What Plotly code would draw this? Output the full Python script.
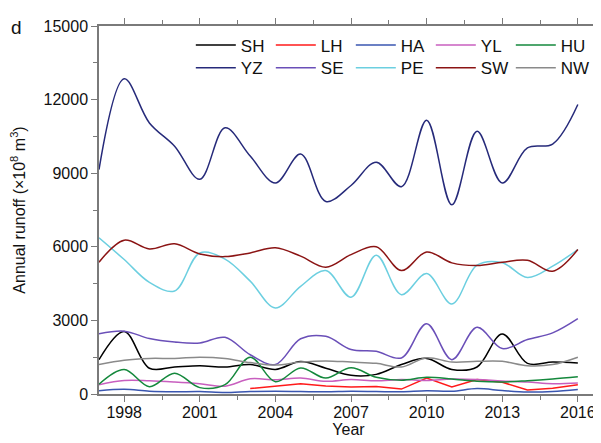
import plotly.graph_objects as go

years = list(range(1997, 2017))
years_lh = list(range(2003, 2017))

SH = [1400, 2550, 1050, 1100, 1150, 1100, 1200, 1000, 1320, 1050, 760, 800, 1200, 1450, 1000, 1100, 2450, 1250, 1300, 1260]
LH = [220, 320, 420, 330, 290, 310, 200, 650, 290, 590, 480, 160, 230, 380]
HA = [130, 190, 110, 90, 100, 60, 100, 110, 100, 90, 110, 100, 90, 130, 110, 220, 140, 80, 100, 180]
YL = [380, 550, 540, 490, 420, 320, 620, 580, 650, 520, 590, 540, 590, 550, 610, 590, 530, 490, 420, 450]
HU = [400, 1000, 300, 850, 260, 380, 1500, 500, 1060, 650, 1070, 680, 560, 680, 610, 520, 490, 540, 610, 700]
YZ = [9150, 12850, 11050, 10100, 8750, 10850, 9700, 8600, 9780, 7850, 8500, 9450, 8450, 11160, 7710, 10710, 8600, 10030, 10190, 11800]
SE = [2450, 2560, 2260, 2120, 2080, 2310, 1600, 1200, 2250, 2350, 1810, 1740, 1470, 2860, 1400, 2720, 1850, 2220, 2490, 3070]
PE = [6365, 5480, 4550, 4200, 5750, 5500, 4600, 3510, 4390, 5030, 3945, 5660, 4050, 4910, 3670, 5250, 5350, 4750, 5210, 5890]
SW = [5370, 6270, 5915, 6120, 5710, 5600, 5750, 5960, 5620, 5170, 5680, 6000, 5030, 5790, 5345, 5235, 5370, 5450, 5005, 5890]
NW = [1200, 1380, 1450, 1450, 1500, 1450, 1280, 1180, 1300, 1350, 1300, 1250, 1100, 1480, 1300, 1330, 1330, 1150, 1200, 1500]

x_ticks = [1998, 2001, 2004, 2007, 2010, 2013, 2016]
y_ticks = [0, 3000, 6000, 9000, 12000, 15000]

FONT = "Liberation Sans, Arial, sans-serif"
TXT = "#111111"

series = [
    ("SH", years, SH, "#000000", "spline", "legend"),
    ("LH", years_lh, LH, "#ff1a1a", "linear", "legend"),
    ("HA", years, HA, "#3a56b0", "spline", "legend"),
    ("YL", years, YL, "#c85fbf", "spline", "legend"),
    ("HU", years, HU, "#14883c", "spline", "legend"),
    ("YZ", years, YZ, "#262a7a", "spline", "legend2"),
    ("SE", years, SE, "#6a4fb8", "spline", "legend2"),
    ("PE", years, PE, "#6ccfe0", "spline", "legend2"),
    ("SW", years, SW, "#8b1414", "spline", "legend2"),
    ("NW", years, NW, "#8a8a8a", "spline", "legend2"),
]

fig = go.Figure()
for name, xs, ys, col, shape, lg in series:
    fig.add_trace(go.Scatter(x=xs, y=ys, name=name, mode="lines",
                             line=dict(color=col, width=1.5, shape=shape, smoothing=1.0),
                             legend=lg))

axis_common = dict(showline=True, linecolor="#7a7a7a", linewidth=1.5, mirror="ticks",
                   ticks="outside", ticklen=6, tickwidth=1.2, tickcolor="#7a7a7a",
                   showgrid=False, zeroline=False,
                   tickfont=dict(family=FONT, size=16, color=TXT))

fig.update_xaxes(range=[1997, 2016.8], tickvals=x_ticks, tickformat="d", ticklabelstandoff=-3,
                 minor=dict(dtick=1.5, tick0=1998, ticks="outside", ticklen=4, tickcolor="#7a7a7a", tickwidth=1.2),
                 title=dict(text="Year", font=dict(family=FONT, size=16, color=TXT), standoff=3),
                 **axis_common)
fig.update_yaxes(range=[0, 15000], tickvals=y_ticks, tickformat="d",
                 minor=dict(dtick=1500, tick0=0, ticks="outside", ticklen=4, tickcolor="#7a7a7a", tickwidth=1.2),
                 title=dict(text="Annual runoff (×10<sup>8</sup> m<sup>3</sup>)", font=dict(family=FONT, size=16, color=TXT), standoff=17),
                 **axis_common)

leg_common = dict(orientation="h", xanchor="left", yanchor="top", bgcolor="rgba(0,0,0,0)",
                  font=dict(family=FONT, size=17, color=TXT), entrywidth=25, entrywidthmode="pixels",
                  itemwidth=40, tracegroupgap=0, itemclick=False)
fig.update_layout(
    width=601, height=443,
    margin=dict(l=91, r=3, t=18, b=57),
    paper_bgcolor="white", plot_bgcolor="white",
    font=dict(family=FONT, size=16, color=TXT),
    legend=dict(x=0.184, y=0.996, **leg_common),
    legend2=dict(x=0.184, y=0.934, **leg_common),
)
fig.add_annotation(text="d", xref="paper", yref="paper", x=-0.165, y=0.995, xanchor="center", yanchor="middle",
                   showarrow=False, font=dict(family=FONT, size=19, color=TXT))

fig.write_html("out.html")
